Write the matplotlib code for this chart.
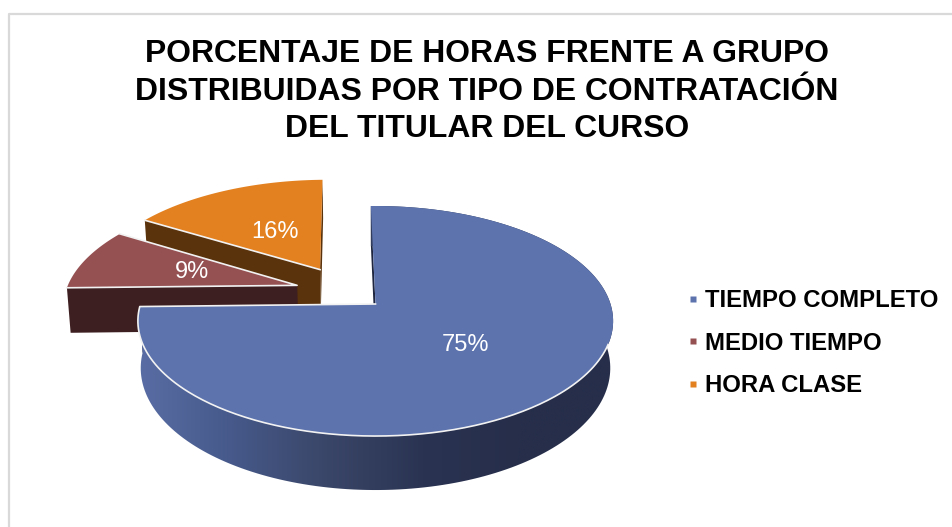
import numpy as np
import matplotlib
matplotlib.use("Agg")
from matplotlib import pyplot as plt
from matplotlib.colors import LinearSegmentedColormap
from matplotlib.lines import Line2D
from matplotlib.patches import Polygon

title = "PORCENTAJE DE HORAS FRENTE A GRUPO\nDISTRIBUIDAS POR TIPO DE CONTRATACIÓN\nDEL TITULAR DEL CURSO"
categories = ["TIEMPO COMPLETO", "MEDIO TIEMPO", "HORA CLASE"]
values = [75, 9, 16]

top_colours = ["#5c73ae", "#955052", "#e38120"]
wall_colours = ["#1f2740", "#3e1f21", "#5a320b"]

plt.rcParams["font.family"] = ["Liberation Sans", "DejaVu Sans"]

# pie geometry, in image pixels
CX, CY = 375.5, 304
RX, RY = 235, 112.5
PERSP = 0.148
DEPTH = 46
START = -1.3

# how far each slice is pulled out (fractions of the radius, x and y)
pull = [(0, 0), (-0.342, 0.17), (-0.247, 0.32)]
label_r = [0.5, 0.49, 0.45]


def project(x, y, z=0):
    s = 1 / (1 + PERSP * y)
    sx = CX + RX * x * s * (1 - 0.012 * z)
    sy = CY - RY * y * s + DEPTH * z * s
    return np.column_stack([sx, sy])


def rim(a0, a1, pull_xy, z=0):
    t = np.radians(np.linspace(a0, a1, 200))
    return project(np.sin(t) + pull_xy[0], np.cos(t) + pull_xy[1], z)


def apex(pull_xy, z=0):
    return project(np.array([pull_xy[0]]), np.array([pull_xy[1]]), z)


fig = plt.figure(figsize=(9.52, 5.27), dpi=100)
ax = fig.add_axes([0, 0, 1, 1])
ax.set_xlim(0, 952)
ax.set_ylim(527, 0)
ax.axis("off")

# chart frame
ax.plot([8.5, 8.5, 952], [527, 13.5, 13.5], color="#d9d9d9", lw=1.6, zorder=1)

ends = START + np.cumsum(values) * 360 / sum(values)
starts = ends - np.array(values) * 360 / sum(values)

# back to front: orange, red, blue
z = 2
for i in [2, 1, 0]:
    a0, a1 = starts[i], ends[i]
    p = pull[i]
    for a in [a0, a1]:
        edge = rim(a, a, p)[:1]
        edge_low = rim(a, a, p, 1)[:1]
        wall = np.vstack([apex(p), edge, edge_low, apex(p, 1)])
        ax.add_patch(Polygon(wall, closed=True, fc=wall_colours[i], ec="none", zorder=z))
    if i == 0:
        outer = np.vstack([rim(a0, a1, p), rim(a0, a1, p, 1)[::-1]])
        clip = Polygon(outer, closed=True, fc="none", ec="none", transform=ax.transData)
        ax.add_patch(clip)
        cmap = LinearSegmentedColormap.from_list(
            "side", ["#5a6ea6", "#46598a", "#3a4668", "#2a3352", "#262e4a", "#262e4a"]
        )
        im = ax.imshow(
            np.linspace(0, 1, 256).reshape(1, -1),
            cmap=cmap,
            extent=(135, 615, 500, 200),
            aspect="auto",
            zorder=z,
        )
        im.set_clip_path(clip)
    top = np.vstack([apex(p), rim(a0, a1, p)])
    ax.add_patch(Polygon(top, closed=True, fc=top_colours[i], ec="none", zorder=z + 1))
    # white rim only on the edges that face the viewer
    if i == 0:
        front = rim(110, a1, p)
        line = np.vstack([front, apex(p)])
    elif i == 1:
        line = np.vstack([rim(a1, a1, p)[:1], apex(p), rim(a0, a0, p)[:1]])
    else:
        line = np.vstack([rim(a0, a0, p)[:1], apex(p)])
    ax.plot(line[:, 0], line[:, 1], color="#f2f2f2", lw=1.2, zorder=z + 1)
    # percent label
    mid = np.radians((a0 + a1) / 2)
    pos = project(
        np.array([p[0] + label_r[i] * np.sin(mid)]),
        np.array([p[1] + label_r[i] * np.cos(mid)]),
    )[0]
    ax.text(pos[0], pos[1], f"{values[i]}%", color="white", fontsize=17,
            ha="center", va="center", zorder=20)
    z += 2

ax.set_xlim(0, 952)
ax.set_ylim(527, 0)

ax.text(487, 91.5, title, fontsize=22.95, fontweight="bold", color="black",
        ha="center", va="center", linespacing=1.33, zorder=20)

handles = [
    Line2D([], [], ls="none", marker="s", ms=5, mfc=c, mec="none") for c in top_colours
]
ax.legend(
    handles, categories, loc="upper left", bbox_to_anchor=(688.5 / 952, 1 - 289 / 527),
    frameon=False, prop={"size": 17.2, "weight": "bold"}, labelspacing=0.82,
    handlelength=0.4, handletextpad=0.28, borderpad=0, borderaxespad=0,
)

fig.savefig("out.png", dpi=100)
